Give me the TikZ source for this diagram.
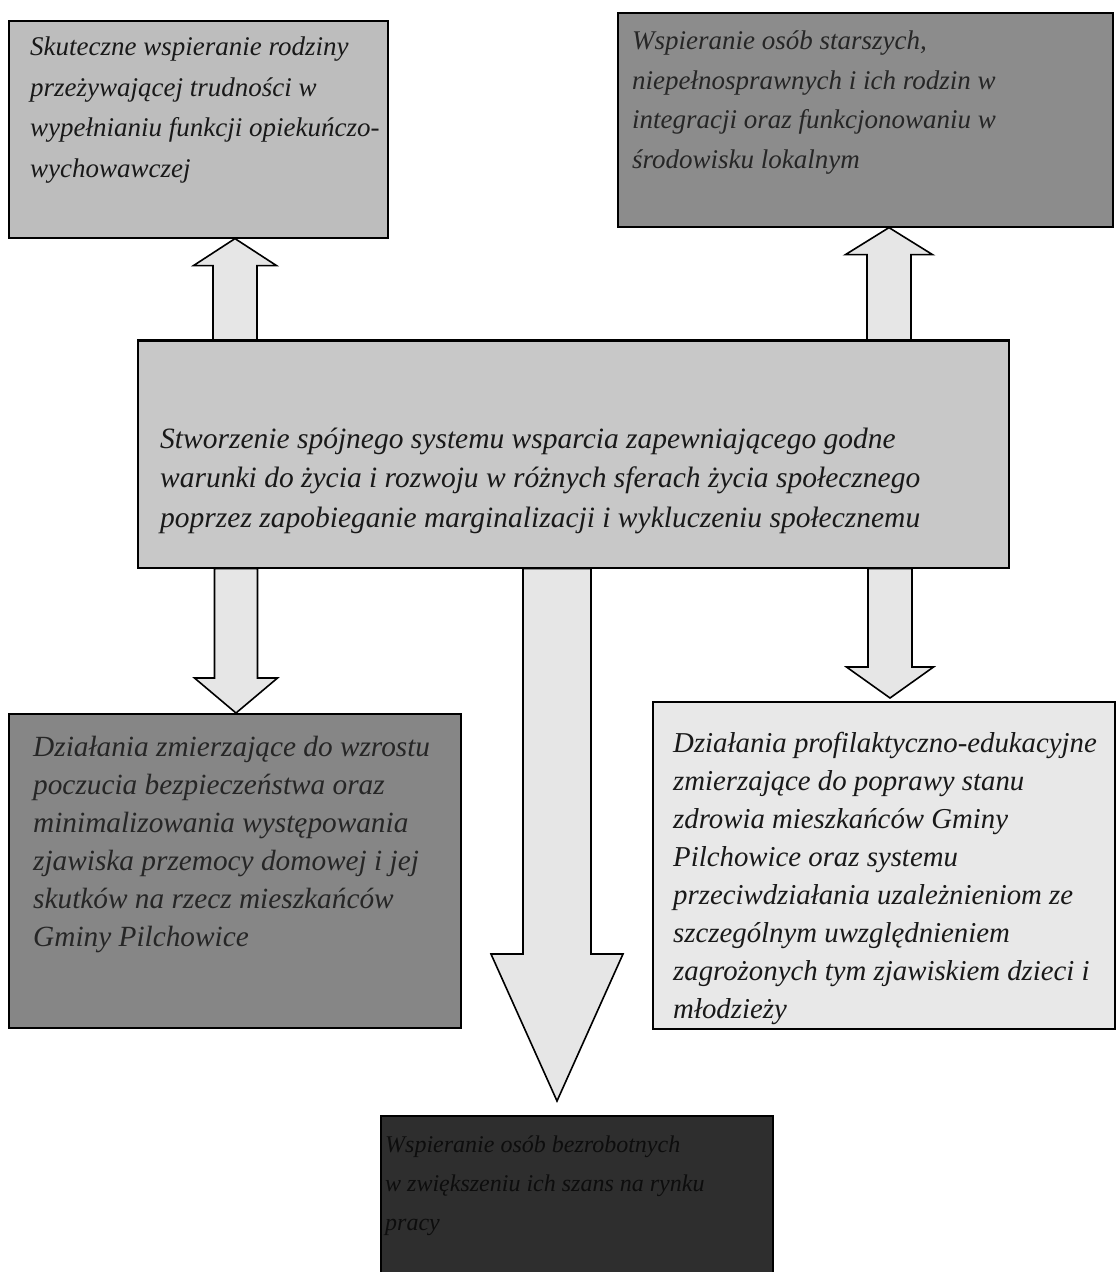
\documentclass[tikz,border=0pt]{standalone}
\usepackage{fontspec}
\setmainfont{Liberation Serif}
\usetikzlibrary{calc}
\definecolor{tlfill}{HTML}{BDBDBD}
\definecolor{trfill}{HTML}{8C8C8C}
\definecolor{cfill}{HTML}{C8C8C8}
\definecolor{blfill}{HTML}{868686}
\definecolor{brfill}{HTML}{E8E8E8}
\definecolor{botfill}{HTML}{2E2E2E}
\definecolor{arrfill}{HTML}{E6E6E6}
\tikzset{
  box/.style={draw=black, line width=1.6pt, rectangle, inner sep=0pt, anchor=north west},
  txt/.style={anchor=north west, inner sep=0pt, align=left},
  barrow/.style={draw=black, line width=1.6pt, fill=arrfill, line join=miter},
}
\newcommand\blockarrow[5]{%
  \draw[barrow] let \p1=(#1), \p2=(#2), \n1={sign(\y2-\y1)} in
   ({\x2-#3},\y1) -- ({\x2-#3},{\y2-\n1*#5}) -- ({\x2-#4},{\y2-\n1*#5}) -- (\x2,\y2)
   -- ({\x2+#4},{\y2-\n1*#5}) -- ({\x2+#3},{\y2-\n1*#5}) -- ({\x2+#3},\y1) -- cycle;}
\begin{document}
\begin{tikzpicture}[x=1pt,y=1pt]
\useasboundingbox[fill=white] (0,0) rectangle (1116,-1272);
% boxes (empty frames)
\node[box, fill=tlfill, minimum width=379pt, minimum height=217pt] (tl) at (8,-20) {};
\node[box, fill=trfill, minimum width=495pt, minimum height=214pt] (tr) at (617,-12) {};
\node[box, fill=cfill, minimum width=871pt, minimum height=227pt] (ctr) at (137,-340) {};
\node[box, fill=blfill, minimum width=452pt, minimum height=314pt] (bl) at (8,-713) {};
\node[box, fill=brfill, minimum width=462pt, minimum height=327pt] (br) at (652,-701) {};
\node[box, fill=botfill, minimum width=392pt, minimum height=180pt] (bot) at (380,-1115) {};
% arrow axes
\coordinate (ax1) at (235,0);
\coordinate (ax2) at (889,0);
\coordinate (ax3) at (236,0);
\coordinate (ax4) at (557,0);
\coordinate (ax5) at (890,0);
\coordinate (tip4) at ($(ax4 |- bot.north)+(0,14)$);
\coordinate (tip5) at ($(ax5 |- br.north)+(0,3)$);
\blockarrow{ax1 |- ctr.north}{ax1 |- tl.south}{22pt}{41.5pt}{27pt}
\blockarrow{ax2 |- ctr.north}{ax2 |- tr.south}{22pt}{43.5pt}{27pt}
\blockarrow{ax3 |- ctr.south}{ax3 |- bl.north}{21.5pt}{41.5pt}{35pt}
\blockarrow{ax4 |- ctr.south}{tip4}{34pt}{66pt}{147pt}
\blockarrow{ax5 |- ctr.south}{tip5}{22pt}{43.5pt}{31pt}
% redraw box edges touched by arrows
\draw[line width=1.6pt] (ctr.north west) -- (ctr.north east);
\draw[line width=1.6pt] (ctr.south west) -- (ctr.south east);
% texts
\node[txt, text=black!90, font=\fontsize{27pt}{40.5pt}\selectfont\itshape] (tlt) at ($(tl.north west)+(22,-17)$)
  {Skuteczne wspieranie rodziny\\przeżywającej trudności w\\wypełnianiu funkcji opiekuńczo-\\wychowawczej};
\node[txt, text=black!85, font=\fontsize{27pt}{39.5pt}\selectfont\itshape] (trt) at ($(tr.north west)+(15,-19)$)
  {Wspieranie osób starszych,\\niepełnosprawnych i ich rodzin w\\integracji oraz funkcjonowaniu w\\środowisku lokalnym};
\node[txt, text=black!90, font=\fontsize{29.5pt}{39.5pt}\selectfont\itshape] (ctrt) at ($(ctr.north west)+(23,-87.5)$)
  {Stworzenie spójnego systemu wsparcia zapewniającego godne\\warunki do życia i rozwoju w różnych sferach życia społecznego\\poprzez zapobieganie marginalizacji i wykluczeniu społecznemu};
\node[txt, text=black!85, font=\fontsize{29.3pt}{38pt}\selectfont\itshape] (blt) at ($(bl.north west)+(25,-23)$)
  {Działania zmierzające do wzrostu\\poczucia bezpieczeństwa oraz\\minimalizowania występowania\\zjawiska przemocy domowej i jej\\skutków na rzecz mieszkańców\\Gminy Pilchowice};
\node[txt, text=black!90, font=\fontsize{28.8pt}{38pt}\selectfont\itshape] (brt) at ($(br.north west)+(21,-31)$)
  {Działania profilaktyczno-edukacyjne\\zmierzające do poprawy stanu\\zdrowia mieszkańców Gminy\\Pilchowice oraz systemu\\przeciwdziałania uzależnieniom ze\\szczególnym uwzględnieniem\\zagrożonych tym zjawiskiem dzieci i\\młodzieży};
\node[txt, text=black!95, font=\fontsize{24pt}{39pt}\selectfont\itshape] (bott) at ($(bot.north west)+(5,-21)$)
  {Wspieranie osób bezrobotnych\\w zwiększeniu ich szans na rynku\\pracy};
\end{tikzpicture}
\end{document}
